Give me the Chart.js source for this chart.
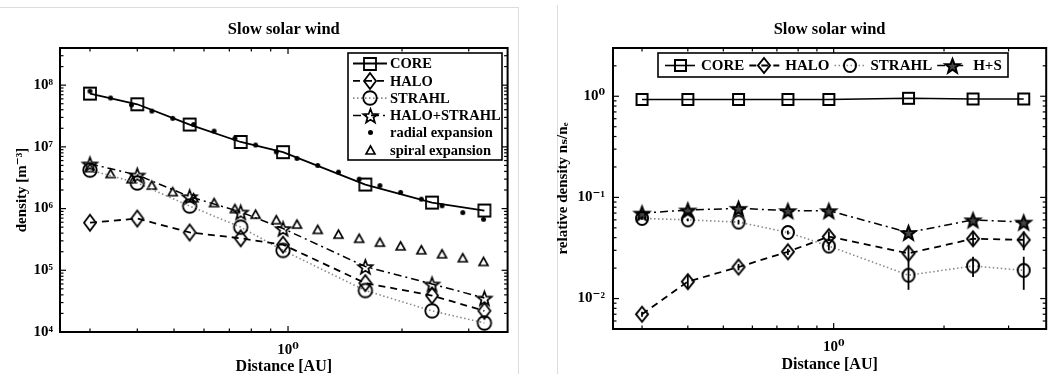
<!DOCTYPE html>
<html><head><meta charset="utf-8">
<script src="https://cdn.jsdelivr.net/npm/chart.js"></script>
<style>
html,body{margin:0;padding:0;background:#fff;width:1054px;height:374px;overflow:hidden;position:relative}
#c1{position:absolute;left:0;top:0}
#c2{position:absolute;left:540px;top:0}
.gl{position:absolute;background:#dcdcdc}
</style></head><body>
<div class="gl" style="left:0;top:7px;width:519px;height:1px"></div>
<div class="gl" style="left:518px;top:7px;width:1px;height:367px"></div>
<div class="gl" style="left:557px;top:5px;width:1px;height:369px"></div>
<canvas id="c1" width="520" height="374"></canvas>
<canvas id="c2" width="514" height="374"></canvas>
<script>
// ---------- data ----------
const distances = [0.3, 0.4, 0.55, 0.75, 0.97, 1.6, 2.4, 3.3];
const coreDensity = [7.3e7, 4.9e7, 2.3e7, 1.2e7, 8.2e6, 2.45e6, 1.25e6, 9.3e5];
const haloDensity = [5.9e5, 6.9e5, 4.1e5, 3.3e5, 2.6e5, 6.2e4, 3.9e4, 2.2e4];
const strahlDensity = [4.2e6, 2.6e6, 1.1e6, 5.0e5, 2.1e5, 4.7e4, 2.2e4, 1.4e4];
const haloStrahlDensity = [5.3e6, 3.5e6, 1.56e6, 8.8e5, 4.75e5, 1.15e5, 6.0e4, 3.55e4];

const modelDistances = [0.3, 0.34, 0.386, 0.437, 0.496, 0.563, 0.638, 0.724, 0.821, 0.931, 1.056, 1.198, 1.359, 1.541, 1.748, 1.983, 2.249, 2.551, 2.894, 3.283];
const radialExpansion = [8.0e7, 6.2e7, 4.8e7, 3.8e7, 2.9e7, 2.3e7, 1.8e7, 1.37e7, 1.07e7, 8.3e6, 6.5e6, 5.0e6, 3.9e6, 3.0e6, 2.36e6, 1.83e6, 1.42e6, 1.11e6, 8.6e5, 6.7e5];
const spiralExpansion = [4.6e6, 3.7e6, 3.05e6, 2.4e6, 1.88e6, 1.5e6, 1.25e6, 1.0e6, 8.1e5, 6.6e5, 5.6e5, 4.6e5, 3.85e5, 3.3e5, 2.86e5, 2.49e5, 2.15e5, 1.85e5, 1.6e5, 1.39e5];

const coreRel = [0.93, 0.93, 0.93, 0.93, 0.93, 0.955, 0.94, 0.94];
const haloRel = [0.007, 0.0147, 0.0205, 0.029, 0.041, 0.028, 0.039, 0.038];
const strahlRel = [0.062, 0.060, 0.057, 0.045, 0.033, 0.017, 0.021, 0.019];
const hsRel = [0.070, 0.075, 0.078, 0.074, 0.074, 0.045, 0.060, 0.057];
const haloRelLow = [0.0066, 0.0126, 0.019, 0.027, 0.037, 0.024, 0.033, 0.030];
const haloRelHigh = [0.0074, 0.0171, 0.022, 0.031, 0.046, 0.033, 0.046, 0.046];
const strahlRelLow = [0.060, 0.058, 0.054, 0.043, 0.030, 0.0122, 0.0163, 0.0122];
const strahlRelHigh = [0.064, 0.062, 0.060, 0.047, 0.036, 0.0238, 0.0259, 0.0259];

// ---------- axes ----------
const xRange = [0.25, 3.8];
const xTickValues = [1];
const xTickLabels = ['10⁰'];
const densityRange = [1e4, 4e8];
const densityTickValues = [1e4, 1e5, 1e6, 1e7, 1e8];
const densityTickLabels = ['10⁴', '10⁵', '10⁶', '10⁷', '10⁸'];
const relRange = [0.005, 3];
const relTickValues = [0.01, 0.1, 1];
const relTickLabels = ['10⁻²', '10⁻¹', '10⁰'];

// ---------- styling ----------
const FAMILY = "'Liberation Serif', 'DejaVu Serif', serif";
Chart.defaults.font.family = FAMILY;
Chart.defaults.color = '#000';

function marker(shape, w, h, lw, fill) {
  const pad = Math.ceil(lw) + 1;
  const c = document.createElement('canvas');
  c.width = Math.ceil(w + 2 * pad); c.height = Math.ceil(h + 2 * pad);
  const g = c.getContext('2d');
  const cx = c.width / 2, cy = c.height / 2;
  g.lineWidth = lw; g.strokeStyle = '#000'; g.fillStyle = fill || '#000';
  g.lineJoin = 'miter';
  g.beginPath();
  if (shape === 'square') g.rect(cx - w / 2, cy - h / 2, w, h);
  else if (shape === 'diamond') { g.moveTo(cx, cy - h / 2); g.lineTo(cx + w / 2, cy); g.lineTo(cx, cy + h / 2); g.lineTo(cx - w / 2, cy); g.closePath(); }
  else if (shape === 'circle') g.ellipse(cx, cy, w / 2, h / 2, 0, 0, Math.PI * 2);
  else if (shape === 'star') {
    const R = w / 2, r = R * 0.42;
    for (let i = 0; i < 10; i++) {
      const a = -Math.PI / 2 + i * Math.PI / 5, rr = i % 2 ? r : R;
      const px = cx + rr * Math.cos(a), py = cy + 1 + rr * Math.sin(a);
      i ? g.lineTo(px, py) : g.moveTo(px, py);
    }
    g.closePath();
  }
  else if (shape === 'triangle') { g.moveTo(cx, cy - h / 2); g.lineTo(cx + w / 2, cy + h / 2); g.lineTo(cx - w / 2, cy + h / 2); g.closePath(); }
  else if (shape === 'dot') g.arc(cx, cy, w / 2, 0, Math.PI * 2);
  if (fill) g.fill();
  if (shape !== 'dot') g.stroke();
  return c;
}

function pts(xs, ys) { return xs.map((x, i) => ({ x: x, y: ys[i] })); }

const frameTicks = {
  id: 'frameTicks',
  afterDraw(chart) {
    const { ctx, chartArea: a } = chart;
    const x = chart.scales.x, y = chart.scales.y;
    ctx.save();
    ctx.strokeStyle = '#000'; ctx.lineWidth = 1.2;
    const seg = (x0, y0, x1, y1) => { ctx.beginPath(); ctx.moveTo(x0, y0); ctx.lineTo(x1, y1); ctx.stroke(); };
    const each = (scale, fn) => {
      for (let e = Math.floor(Math.log10(scale.min)); Math.pow(10, e) <= scale.max; e++) {
        for (let m = 1; m < 10; m++) {
          const v = m * Math.pow(10, e);
          if (v < scale.min * 0.9999 || v > scale.max * 1.0001) continue;
          fn(scale.getPixelForValue(v), m === 1 ? 6 : 3.5);
        }
      }
    };
    each(x, (p, L) => { seg(p, a.bottom, p, a.bottom - L); seg(p, a.top, p, a.top + L); });
    each(y, (p, L) => { seg(a.left, p, a.left + L, p); seg(a.right, p, a.right - L, p); });
    ctx.lineWidth = 2;
    ctx.strokeRect(a.left, a.top, a.right - a.left, a.bottom - a.top);
    ctx.restore();
  }
};

const errorBars = {
  id: 'errorBars',
  afterDatasetsDraw(chart) {
    const { ctx } = chart;
    const x = chart.scales.x, y = chart.scales.y;
    ctx.save();
    ctx.strokeStyle = '#000'; ctx.lineWidth = 1.8;
    chart.data.datasets.forEach(ds => {
      if (!ds.errLow) return;
      ds.data.forEach((p, i) => {
        const px = x.getPixelForValue(p.x);
        ctx.beginPath();
        ctx.moveTo(px, y.getPixelForValue(ds.errLow[i]));
        ctx.lineTo(px, y.getPixelForValue(ds.errHigh[i]));
        ctx.stroke();
      });
    });
    ctx.restore();
  }
};

const boxLegend = {
  id: 'boxLegend',
  afterDraw(chart, args, o) {
    const ctx = chart.ctx;
    ctx.save();
    ctx.fillStyle = '#fff'; ctx.fillRect(o.left, o.top, o.width, o.height);
    ctx.lineWidth = 1.6; ctx.strokeStyle = '#000'; ctx.strokeRect(o.left, o.top, o.width, o.height);
    ctx.font = o.font; ctx.textBaseline = 'middle'; ctx.textAlign = 'left';
    let cx = o.left + o.inset, cy = o.firstRow;
    chart.data.datasets.forEach(ds => {
      const x0 = cx, x1 = cx + o.sampleW, xm = (x0 + x1) / 2;
      if (ds.showLine !== false) {
        ctx.save(); ctx.strokeStyle = ds.borderColor; ctx.lineWidth = ds.borderWidth;
        ctx.setLineDash(ds.borderDash || []);
        ctx.beginPath(); ctx.moveTo(x0, cy); ctx.lineTo(x1, cy); ctx.stroke(); ctx.restore();
      }
      const img = ds.pointStyle;
      ctx.drawImage(img, Math.round(xm - img.width / 2), Math.round(cy - img.height / 2));
      ctx.fillStyle = '#000';
      ctx.fillText(ds.label, x1 + o.textGap, cy + 1);
      if (o.horizontal) cx = x1 + o.textGap + ctx.measureText(ds.label).width + o.itemGap;
      else cy += o.rowStep;
    });
    ctx.restore();
  }
};

function labelFor(values, labels) {
  return v => { const i = values.findIndex(t => Math.abs(t - v) < t * 1e-6); return i >= 0 ? labels[i] : ''; };
}

function makeChart(id, datasets, o) {
  return new Chart(document.getElementById(id), {
    type: 'line',
    data: { datasets: datasets },
    plugins: [errorBars, frameTicks, boxLegend],
    options: {
      responsive: false, animation: false, events: [],
      layout: { padding: { left: 0, right: o.padRight, top: 0, bottom: 0 } },
      elements: { line: { tension: 0, fill: false } },
      plugins: {
        legend: { display: false }, tooltip: { enabled: false },
        title: { display: true, fullSize: false, text: 'Slow solar wind', color: '#000',
                 font: { size: 16.5, weight: 'bold', family: FAMILY }, padding: { top: 20.1, bottom: 8.1 } },
        boxLegend: o.legend
      },
      scales: {
        x: {
          type: 'logarithmic', min: xRange[0], max: xRange[1],
          grid: { display: false, drawTicks: false }, border: { display: false },
          afterBuildTicks: s => { s.ticks = xTickValues.map(v => ({ value: v })); },
          afterFit: s => { s.height = o.xHeight; },
          ticks: { autoSkip: false, maxRotation: 0, padding: o.xPad, color: '#000',
                   font: { size: 15, weight: 'bold', family: FAMILY },
                   callback: labelFor(xTickValues, xTickLabels) },
          title: { display: true, text: 'Distance [AU]', color: '#000',
                   font: { size: 16, weight: 'bold', family: FAMILY }, padding: { top: 0, bottom: o.xTitleBottom } }
        },
        y: {
          type: 'logarithmic', min: o.yRange[0], max: o.yRange[1],
          grid: { display: false, drawTicks: false }, border: { display: false },
          afterBuildTicks: s => { s.ticks = o.yTicks.map(v => ({ value: v })); },
          afterFit: s => { s.width = o.yWidth; },
          ticks: { autoSkip: false, padding: o.yPad, color: '#000',
                   font: { size: 15, weight: 'bold', family: FAMILY },
                   callback: labelFor(o.yTicks, o.yLabels) },
          title: { display: true, text: o.yTitle, color: '#000',
                   font: { size: 15, weight: 'bold', family: FAMILY }, padding: { top: o.yTitleTop, bottom: 0 } }
        }
      }
    }
  });
}

// ---------- left panel ----------
const L = {
  square: marker('square', 12, 12, 1.8),
  diamond: marker('diamond', 12, 16, 1.8),
  circle: marker('circle', 13.5, 13.5, 1.8),
  star: marker('star', 15, 15, 1.7),
  dot: marker('dot', 5, 5, 1, '#000'),
  tri: marker('triangle', 9, 8, 1.6)
};
makeChart('c1', [
  { label: 'CORE', data: pts(distances, coreDensity), borderColor: '#000', borderWidth: 1.8, borderDash: [], pointStyle: L.square, pointRadius: 6 },
  { label: 'HALO', data: pts(distances, haloDensity), borderColor: '#000', borderWidth: 1.8, borderDash: [7, 5], pointStyle: L.diamond, pointRadius: 6 },
  { label: 'STRAHL', data: pts(distances, strahlDensity), borderColor: '#8a8a8a', borderWidth: 1.6, borderDash: [1.5, 2.5], pointStyle: L.circle, pointRadius: 6 },
  { label: 'HALO+STRAHL', data: pts(distances, haloStrahlDensity), borderColor: '#000', borderWidth: 1.5, borderDash: [8, 4, 2, 4], pointStyle: L.star, pointRadius: 6 },
  { label: 'radial expansion', data: pts(modelDistances, radialExpansion), showLine: false, borderColor: '#000', borderWidth: 0, pointStyle: L.dot, pointRadius: 3 },
  { label: 'spiral expansion', data: pts(modelDistances, spiralExpansion), showLine: false, borderColor: '#000', borderWidth: 0, pointStyle: L.tri, pointRadius: 4 }
], {
  padRight: 12.4, xHeight: 42, xPad: 9, xTitleBottom: -2,
  yRange: densityRange, yTicks: densityTickValues, yLabels: densityTickLabels,
  yWidth: 60, yPad: 7, yTitle: 'density [m⁻³]', yTitleTop: 13,
  legend: { left: 348, top: 53, width: 154, height: 107, inset: 5, firstRow: 63.5, rowStep: 17.3,
            sampleW: 34, textGap: 3, itemGap: 0, horizontal: false, font: 'bold 14.5px ' + FAMILY }
});

// ---------- right panel ----------
const R = {
  square: marker('square', 11, 11, 2),
  diamond: marker('diamond', 12, 15, 2),
  circle: marker('circle', 12, 13, 2),
  star: marker('star', 15, 15, 2, '#444')
};
makeChart('c2', [
  { label: 'CORE', data: pts(distances, coreRel), borderColor: '#000', borderWidth: 1.6, borderDash: [], pointStyle: R.square, pointRadius: 6 },
  { label: 'HALO', data: pts(distances, haloRel), borderColor: '#000', borderWidth: 1.8, borderDash: [7, 5], pointStyle: R.diamond, pointRadius: 6, errLow: haloRelLow, errHigh: haloRelHigh },
  { label: 'STRAHL', data: pts(distances, strahlRel), borderColor: '#8a8a8a', borderWidth: 1.6, borderDash: [1.5, 2.5], pointStyle: R.circle, pointRadius: 6, errLow: strahlRelLow, errHigh: strahlRelHigh },
  { label: 'H+S', data: pts(distances, hsRel), borderColor: '#000', borderWidth: 1.5, borderDash: [8, 4, 2, 4], pointStyle: R.star, pointRadius: 6 }
], {
  padRight: 1, xHeight: 45, xPad: 9, xTitleBottom: 0,
  yRange: relRange, yTicks: relTickValues, yLabels: relTickLabels,
  yWidth: 73, yPad: 8, yTitle: 'relative density nₛ/nₑ', yTitleTop: 14,
  legend: { left: 118, top: 53, width: 350, height: 24, inset: 7, firstRow: 65.5, rowStep: 0,
            sampleW: 30, textGap: 6, itemGap: 5, horizontal: true, font: 'bold 15px ' + FAMILY }
});
</script>
</body></html>
